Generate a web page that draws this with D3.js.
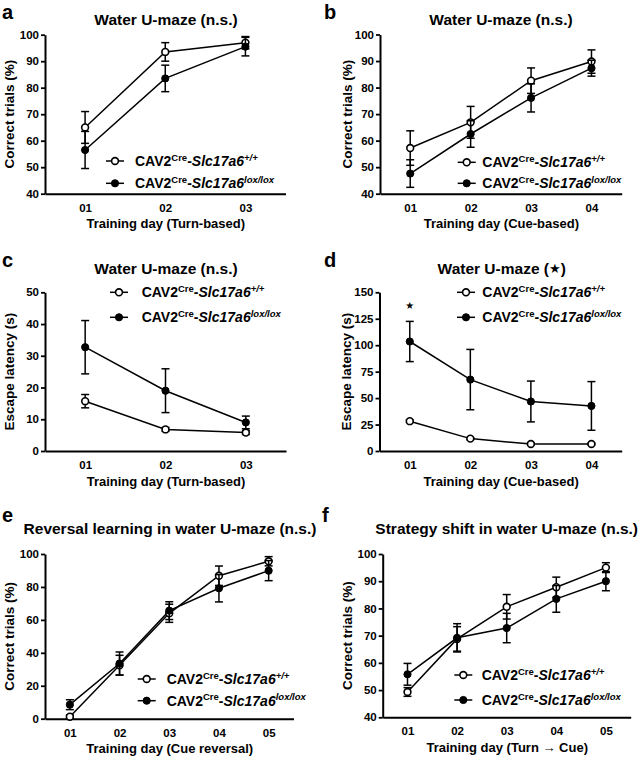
<!DOCTYPE html>
<html><head><meta charset="utf-8">
<script src="https://cdn.jsdelivr.net/npm/d3@7"></script>
<style>
body{margin:0;background:#fff}
svg{display:block}
text{font-family:"Liberation Sans",Arial,Helvetica,sans-serif;font-weight:bold;fill:#000}
</style>
</head><body>
<svg id="chart" width="641" height="760"></svg>
<script>
// ---------- DATA ----------
const days3 = ["01", "02", "03"];
const days4 = ["01", "02", "03", "04"];
const days5 = ["01", "02", "03", "04", "05"];

const seriesNames = ["+/+", "lox/lox"];

// a: Water U-maze, turn-based, correct trials (%)
const wtA = [65, 93.5, 97];
const wtAErr = [6, 3.5, 2.3];
const koA = [56.5, 83.5, 95.5];
const koAErr = [7, 5, 3.5];

// b: Water U-maze, cue-based, correct trials (%)
const wtB = [57.2, 66.9, 82.6, 89.8];
const wtBErr = [6.5, 6, 4.8, 4.4];
const koB = [47.6, 62.5, 76.1, 87.3];
const koBErr = [5.2, 5, 5.3, 3];

// c: Water U-maze, turn-based, escape latency (s)
const wtC = [15.7, 6.8, 5.8];
const wtCErr = [2.1, 0.6, 0.6];
const koC = [32.7, 19, 9];
const koCErr = [8.4, 6.9, 2];

// d: Water U-maze, cue-based, escape latency (s)
const wtD = [28.2, 11.7, 6.6, 6.6];
const wtDErr = [1.2, 1, 0.8, 0.8];
const koD = [103.5, 67.5, 46.8, 42.6];
const koDErr = [19, 28.5, 19.3, 23];

// e: Reversal learning, correct trials (%)
const wtE = [1.2, 32.5, 64, 86.8, 95.6];
const wtEErr = [1, 6, 5.5, 5.9, 2.8];
const koE = [8.5, 33.5, 65.6, 79.2, 89.9];
const koEErr = [3, 7, 5.4, 8.3, 6.1];

// f: Strategy shift, correct trials (%)
const wtF = [49.3, 68.8, 80.6, 87.8, 95];
const wtFErr = [1.6, 4.5, 4.5, 3.7, 1.8];
const koF = [55.8, 69.2, 72.8, 83.5, 90];
const koFErr = [4, 5.2, 5.4, 4.9, 3.5];

// tick values
const yTicksA = [40, 50, 60, 70, 80, 90, 100];
const yTicksC = [0, 10, 20, 30, 40, 50];
const yTicksD = [0, 25, 50, 75, 100, 125, 150];
const yTicksE = [0, 20, 40, 60, 80, 100];

// significance
const sigD = [1]; // day index (1-based) with significance star

// ---------- LAYOUT ----------
const svg = d3.select("#chart");

const panels = [
  {letter:"a", lx:2, ly:18.5, title:["Water U-maze (n.s.)"], tx:166, ty:25,
   xlabel:"Training day (Turn-based)", ylabel:"Correct trials (%)",
   days:days3, wt:wtA, wtErr:wtAErr, ko:koA, koErr:koAErr,
   yDom:[40,100], yTicks:yTicksA, x0:45, x1:285.5, yT:34.7, yB:193.7, ylx:14,
   legX:115, legY:[161,183.3], legTx:135},
  {letter:"b", lx:324, ly:18.5, title:["Water U-maze (n.s.)"], tx:501, ty:25,
   xlabel:"Training day (Cue-based)", ylabel:"Correct trials (%)",
   days:days4, wt:wtB, wtErr:wtBErr, ko:koB, koErr:koBErr,
   yDom:[40,100], yTicks:yTicksA, x0:380, x1:621.7, yT:34.5, yB:193.7, ylx:352,
   legX:466.7, legY:[162.3,183.3], legTx:482.3},
  {letter:"c", lx:2, ly:267, title:["Water U-maze (n.s.)"], tx:166, ty:274,
   xlabel:"Training day (Turn-based)", ylabel:"Escape latency (s)",
   days:days3, wt:wtC, wtErr:wtCErr, ko:koC, koErr:koCErr,
   yDom:[0,50], yTicks:yTicksC, x0:45, x1:286, yT:292.3, yB:451, ylx:14,
   legX:119, legY:[292.3,317.3], legTx:141.7},
  {letter:"d", lx:324, ly:267, title:["Water U-maze (", "★", ")"], tx:501.7, ty:274,
   xlabel:"Training day (Cue-based)", ylabel:"Escape latency (s)",
   days:days4, wt:wtD, wtErr:wtDErr, ko:koD, koErr:koDErr,
   yDom:[0,150], yTicks:yTicksD, x0:379.5, x1:621.7, yT:292.3, yB:451, ylx:351,
   legX:466, legY:[292.3,317.3], legTx:482.3, sig:sigD},
  {letter:"e", lx:2, ly:522, title:["Reversal learning in water U-maze (n.s.)"], tx:170, ty:534,
   xlabel:"Training day (Cue reversal)", ylabel:"Correct trials (%)",
   days:days5, wt:wtE, wtErr:wtEErr, ko:koE, koErr:koEErr,
   yDom:[0,100], yTicks:yTicksE, x0:45, x1:293.5, yT:554, yB:718.7, ylx:14,
   legX:146.7, legY:[679,700.7], legTx:166.7},
  {letter:"f", lx:322, ly:522, title:["Strategy shift in water U-maze (n.s.)"], tx:506.7, ty:534,
   xlabel:"Training day (Turn \u2192 Cue)", ylabel:"Correct trials (%)",
   days:days5, wt:wtF, wtErr:wtFErr, ko:koF, koErr:koFErr,
   yDom:[40,100], yTicks:yTicksA, x0:382.7, x1:630.7, yT:554, yB:717.3, ylx:352,
   legX:463.3, legY:[675,700], legTx:481.7}
];

function drawLegendText(g, x, y, sup) {
  const t = g.append("text").attr("x", x).attr("y", y).style("font-size", "14px");
  t.append("tspan").text("CAV2");
  t.append("tspan").attr("dy", -5.5).style("font-size", "9.5px").text("Cre");
  t.append("tspan").attr("dy", 5.5).text("-");
  t.append("tspan").style("font-style", "italic").text("Slc17a6");
  t.append("tspan").attr("dy", -5.5).style("font-size", "9.5px").style("font-style", "italic").text(sup);
}

function drawPanel(p) {
  const g = svg.append("g");
  const n = p.days.length;
  const x = d3.scaleLinear().domain([0.5, n + 0.5]).range([p.x0, p.x1]);
  const y = d3.scaleLinear().domain(p.yDom).range([p.yB, p.yT]);

  // panel letter
  g.append("text").attr("x", p.lx).attr("y", p.ly).style("font-size", "20px").text(p.letter);

  // title
  const tt = g.append("text").attr("x", p.tx).attr("y", p.ty).attr("text-anchor", "middle").style("font-size", "15.5px");
  p.title.forEach((s, i) => {
    const sp = tt.append("tspan").text(s);
    if (s === "★") sp.style("font-size", "13px").style("font-family", "DejaVu Sans").attr("dy", -1);
    else if (i > 0) sp.attr("dy", 1);
  });

  // y axis
  const yAxis = d3.axisLeft(y).tickValues(p.yTicks).tickSize(4).tickSizeOuter(0).tickPadding(2).tickFormat(d3.format("d"));
  const ya = g.append("g").attr("transform", `translate(${p.x0},0)`).call(yAxis);
  ya.attr("font-family", null);
  ya.select(".domain").attr("stroke", "#000").attr("stroke-width", 2);
  ya.selectAll(".tick line").attr("stroke", "#000").attr("stroke-width", 1.8);
  ya.selectAll(".tick text").style("font-size", "11.5px").attr("fill", "#000");

  // x axis
  const xAxis = d3.axisBottom(x).tickValues(d3.range(1, n + 1)).tickFormat((d, i) => p.days[i])
    .tickSize(0).tickSizeOuter(0).tickPadding(10);
  const xa = g.append("g").attr("transform", `translate(0,${p.yB})`).call(xAxis);
  xa.attr("font-family", null);
  xa.select(".domain").attr("stroke", "#000").attr("stroke-width", 2);
  xa.selectAll(".tick text").style("font-size", "11.5px").attr("fill", "#000");

  // axis labels
  g.append("text").attr("x", (p.x0 + p.x1) / 2 + 0.5).attr("y", p.yB + 34.5).attr("text-anchor", "middle")
    .style("font-size", "13px").text(p.xlabel);
  g.append("text").attr("transform", `translate(${p.ylx},${(p.yT + p.yB) / 2}) rotate(-90)`)
    .attr("text-anchor", "middle").style("font-size", "13.5px").text(p.ylabel);

  const line = d3.line().x((d, i) => x(i + 1)).y(d => y(d));
  const series = [
    {vals: p.wt, err: p.wtErr, open: true},
    {vals: p.ko, err: p.koErr, open: false}
  ];
  series.forEach(s => {
    g.append("path").datum(s.vals).attr("d", line).attr("fill", "none").attr("stroke", "#000").attr("stroke-width", 1.5);
  });
  series.forEach(s => {
    const eg = g.append("g").attr("stroke", "#000").attr("stroke-width", 1.5);
    s.vals.forEach((v, i) => {
      const cx = x(i + 1), hi = y(v + s.err[i]), lo = y(v - s.err[i]);
      eg.append("line").attr("x1", cx).attr("x2", cx).attr("y1", hi).attr("y2", lo);
      eg.append("line").attr("x1", cx - 4).attr("x2", cx + 4).attr("y1", hi).attr("y2", hi);
      eg.append("line").attr("x1", cx - 4).attr("x2", cx + 4).attr("y1", lo).attr("y2", lo);
    });
    g.append("g").selectAll("circle").data(s.vals).join("circle")
      .attr("cx", (d, i) => x(i + 1)).attr("cy", d => y(d))
      .attr("r", s.open ? 3.4 : 3.6)
      .attr("fill", s.open ? "#fff" : "#000")
      .attr("stroke", "#000").attr("stroke-width", s.open ? 1.6 : 1);
  });

  // significance stars
  if (p.sig) {
    p.sig.forEach(dIdx => {
      const i = dIdx - 1;
      g.append("text").attr("x", x(dIdx)).attr("y", y(p.ko[i] + p.koErr[i]) - 12)
        .attr("text-anchor", "middle").style("font-size", "10px").style("font-family", "DejaVu Sans").text("★");
    });
  }

  // legend
  [true, false].forEach((open, k) => {
    const ly = p.legY[k];
    g.append("line").attr("x1", p.legX - 9).attr("x2", p.legX + 9).attr("y1", ly).attr("y2", ly)
      .attr("stroke", "#000").attr("stroke-width", 1.5);
    g.append("circle").attr("cx", p.legX).attr("cy", ly).attr("r", open ? 3.4 : 3.6)
      .attr("fill", open ? "#fff" : "#000").attr("stroke", "#000").attr("stroke-width", open ? 1.6 : 1);
    drawLegendText(g, p.legTx, ly + 5, seriesNames[k]);
  });
}

panels.forEach(drawPanel);
</script>
</body></html>
